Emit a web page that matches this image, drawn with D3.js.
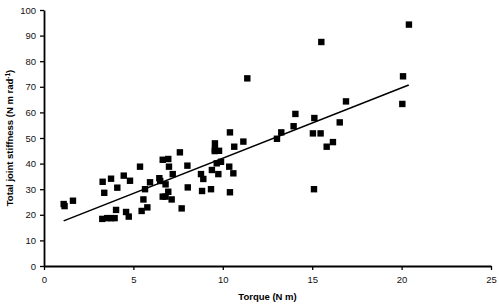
<!DOCTYPE html>
<html><head><meta charset="utf-8">
<script src="https://cdn.jsdelivr.net/npm/d3@7"></script>
<style>body{margin:0;background:#fff}svg{display:block}</style>
</head><body>
<script>
const torque = [1.1,1.15,1.62,3.28,3.37,3.75,4.1,4.46,4.81,5.37,3.26,3.54,3.75,3.95,4.03,4.59,4.74,5.46,5.56,5.65,5.78,5.93,6.45,6.5,6.64,6.95,6.99,7.2,6.8,6.95,6.64,6.8,7.14,7.6,7.7,8.02,8.04,8.78,8.91,8.84,9.34,9.39,9.55,9.75,9.66,9.9,10.36,10.4,10.59,11.37,10.4,9.56,9.56,9.79,10.64,11.15,20.41,15.51,20.08,20.04,16.89,14.06,15.12,13.96,13.27,13.03,15.04,15.47,16.54,16.16,15.81,15.1];
const stiffness = [24.2,23.4,25.5,32.9,28.6,34.1,30.6,35.3,33.3,38.8,18.4,18.7,18.7,18.7,21.9,21.1,19.3,21.5,26.0,30.0,22.9,32.7,34.3,33.2,41.5,41.8,38.8,35.9,31.9,29.0,27.1,27.1,26.0,44.4,22.5,39.2,30.7,35.9,34.0,29.3,30.0,37.5,44.9,35.9,40.1,40.7,38.8,28.8,36.2,73.3,52.2,47.9,45.6,45.0,46.6,48.6,94.3,87.5,74.1,63.3,64.3,59.4,57.8,54.6,52.2,49.7,51.8,51.8,56.1,48.4,46.6,30.0];
const fitSlope = 2.75, fitIntercept = 14.6, fitRange = [1.1, 20.4];
const xTicks = [0,5,10,15,20,25];
const yTicks = [0,10,20,30,40,50,60,70,80,90,100];

const W=499,H=305, L=44,R=491,T=10,B=266;
const svg=d3.select("body").append("svg").attr("width",W).attr("height",H);
const x=d3.scaleLinear().domain([0,25]).range([L,R]);
const y=d3.scaleLinear().domain([0,100]).range([B,T]);
const font="Liberation Sans, Arial, sans-serif";

const xa=svg.append("g").attr("transform",`translate(0,${B})`)
  .call(d3.axisBottom(x).tickValues(xTicks).tickSize(4).tickPadding(6).tickSizeOuter(0));
const ya=svg.append("g").attr("transform",`translate(${L},0)`)
  .call(d3.axisLeft(y).tickValues(yTicks).tickSize(4).tickPadding(4).tickSizeOuter(0));
[xa,ya].forEach(a=>{
  a.select(".domain").attr("stroke","#000").attr("stroke-width",1.8);
  a.selectAll(".tick line").attr("stroke","#000").attr("stroke-width",1.3);
  a.selectAll("text").attr("font-family",font).attr("font-size","9.5px").attr("fill","#111");
});

svg.append("line")
  .attr("x1",x(fitRange[0])).attr("y1",y(fitSlope*fitRange[0]+fitIntercept))
  .attr("x2",x(fitRange[1])).attr("y2",y(fitSlope*fitRange[1]+fitIntercept))
  .attr("stroke","#000").attr("stroke-width",1.6);

const s=6.4;
svg.append("g").selectAll("rect").data(torque.map((t,i)=>[t,stiffness[i]])).join("rect")
  .attr("x",d=>x(d[0])-s/2).attr("y",d=>y(d[1])-s/2).attr("width",s).attr("height",s).attr("fill","#000");

svg.append("text").attr("x",(L+R)/2).attr("y",300).attr("text-anchor","middle")
  .attr("font-family",font).attr("font-weight","bold").attr("font-size","9.5px").text("Torque (N m)");
const yt=svg.append("text").attr("transform",`translate(13,${(T+B)/2}) rotate(-90)`).attr("text-anchor","middle")
  .attr("font-family",font).attr("font-weight","bold").attr("font-size","9.5px");
yt.append("tspan").text("Total joint stiffness  (N m rad");
yt.append("tspan").attr("dy","-3").attr("font-size","6.5px").text("-1");
yt.append("tspan").attr("dy","3").text(")");
</script>
</body></html>
